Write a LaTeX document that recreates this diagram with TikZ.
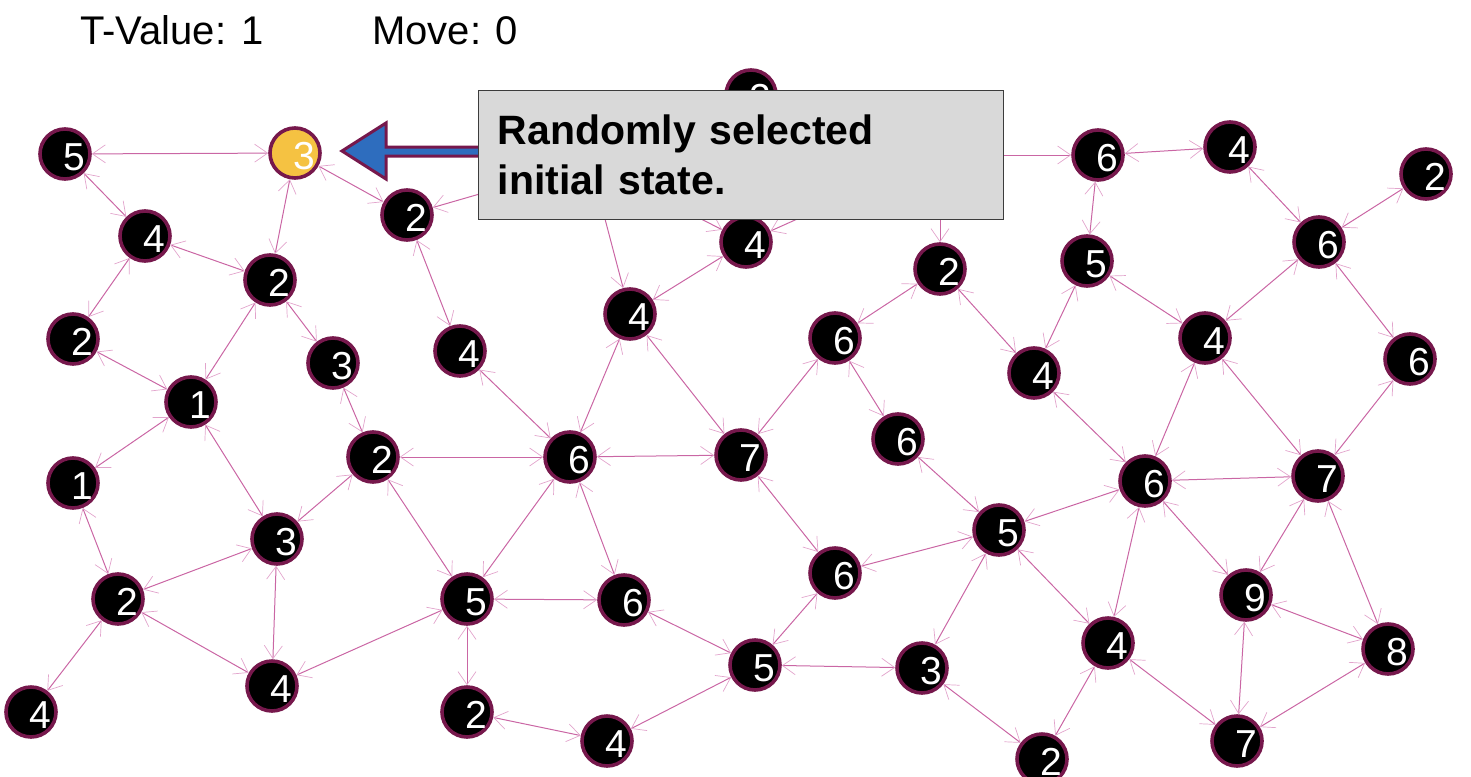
\documentclass[tikz,border=0pt]{standalone}
\usepackage{fontspec}
\setmainfont{Liberation Sans}
\usetikzlibrary{positioning, arrows.meta}

\definecolor{rim}{HTML}{76184C}
\definecolor{startfill}{HTML}{F5C242}
\definecolor{linkcol}{HTML}{CA66A4}
\definecolor{tipcol}{HTML}{E2A4CC}
\definecolor{notefill}{HTML}{D9D9D9}
\definecolor{notedraw}{HTML}{3C3C3C}
\definecolor{pointerfill}{HTML}{2E6DBE}

\tikzset{
  state/.style={circle, draw=rim, fill=black, line width=3.6pt, minimum size=50pt, inner sep=0pt,
    text=white, font=\fontsize{39}{39}\selectfont, text height=33pt, text depth=0pt,
    execute at begin node=\hspace*{9pt}, execute at end node=\hspace*{-9pt}},
  start/.style={state, fill=startfill},
  link/.style={draw=linkcol, line width=1pt,
    {Straight Barb[length=13pt,width=18pt,line width=0.7pt,color=tipcol]}-{Straight Barb[length=13pt,width=18pt,line width=0.7pt,color=tipcol]}},
  notebox/.style={draw=notedraw, fill=notefill, line width=1.3pt, anchor=north west, align=left,
    text width=487pt, inner xsep=19pt, minimum width=525pt, minimum height=129pt,
    font=\bfseries\fontsize{41}{50}\selectfont},
  pointer/.style={draw=rim, fill=pointerfill, line width=3pt, line join=miter},
  header/.style={anchor=base west, inner sep=0pt, font=\fontsize{40}{40}\selectfont}
}

\begin{document}
\begin{tikzpicture}[x=1pt, y=-1pt]
\useasboundingbox (0,0) rectangle (1471,776);

\node[header] (tval) at (80,45) {T-Value: 1};
\node[header] (move) at (372,45) {Move: 0};

\node[state] (a5) at (65,154) {5};
\node[start] (a3) at (295,153) {3};
\node[state] (b4) at (145,236) {4};
\node[state] (b2) at (270,280) {2};
\node[state] (c2) at (407,215) {2};
\node[state] (d2) at (73,339) {2};
\node[state] (e1) at (191,402) {1};
\node[state] (e3) at (333,363) {3};
\node[state] (f4) at (460,351) {4};
\node[state] (g1) at (73,483) {1};
\node[state] (g2) at (373,457) {2};
\node[state] (h3) at (277,539) {3};
\node[state] (i2) at (118,599) {2};
\node[state] (j4) at (31,712) {4};
\node[state] (k4) at (272,686) {4};
\node[state] (l5) at (467,599) {5};
\node[state] (m2) at (467,712) {2};
\node[state] (n4) at (607,741) {4};
\node[state] (o6) at (570,457) {6};
\node[state] (p6) at (624,600) {6};
\node[state] (q4) at (630,314) {4};
\node[state] (r4) at (746,242) {4};
\node[state] (s7) at (741,455) {7};
\node[state] (t6) at (835,573) {6};
\node[state] (u5) at (755,665) {5};
\node[state] (v3) at (922,668) {3};
\node[state] (w2) at (751,95) {2};
\coordinate (x1) at (590,162);
\coordinate (x2) at (940,155);
\node[state] (y2) at (940,269) {2};
\node[state] (y6) at (835,338) {6};
\node[state] (z6) at (898,439) {6};
\node[state] (A4) at (1034,373) {4};
\node[state] (B6) at (1098,155) {6};
\node[state] (C4) at (1230,147) {4};
\node[state] (D2) at (1426,174) {2};
\node[state] (E6) at (1319,242) {6};
\node[state] (F5) at (1087,261) {5};
\node[state] (G4) at (1205,338) {4};
\node[state] (H6) at (1410,359) {6};
\node[state] (I6) at (1145,481) {6};
\node[state] (J7) at (1318,476) {7};
\node[state] (K5) at (999,530) {5};
\node[state] (L9) at (1246,595) {9};
\node[state] (M4) at (1108,643) {4};
\node[state] (N8) at (1388,649) {8};
\node[state] (O7) at (1237,741) {7};
\node[state] (P2) at (1042,759) {2};

\draw[link] (a5) -- (a3);
\draw[link] (a5) -- (b4);
\draw[link] (a3) -- (b2);
\draw[link] (a3) -- (c2);
\draw[link] (b4) -- (b2);
\draw[link] (b4) -- (d2);
\draw[link] (b2) -- (e1);
\draw[link] (b2) -- (e3);
\draw[link] (d2) -- (e1);
\draw[link] (c2) -- (f4);
\draw[link] (c2) -- (x1);
\draw[link] (e3) -- (g2);
\draw[link] (f4) -- (o6);
\draw[link] (e1) -- (g1);
\draw[link] (e1) -- (h3);
\draw[link] (g1) -- (i2);
\draw[link] (i2) -- (h3);
\draw[link] (i2) -- (j4);
\draw[link] (i2) -- (k4);
\draw[link] (h3) -- (g2);
\draw[link] (h3) -- (k4);
\draw[link] (g2) -- (o6);
\draw[link] (g2) -- (l5);
\draw[link] (k4) -- (l5);
\draw[link] (l5) -- (o6);
\draw[link] (l5) -- (p6);
\draw[link] (l5) -- (m2);
\draw[link] (m2) -- (n4);
\draw[link] (n4) -- (u5);
\draw[link] (p6) -- (u5);
\draw[link] (o6) -- (p6);
\draw[link] (o6) -- (q4);
\draw[link] (o6) -- (s7);
\draw[link] (q4) -- (r4);
\draw[link] (q4) -- (s7);
\draw[link] (q4) -- (x1);
\draw[link] (r4) -- (x1);
\draw[link] (r4) -- (x2);
\draw[link] (s7) -- (y6);
\draw[link] (s7) -- (t6);
\draw[link] (t6) -- (u5);
\draw[link] (t6) -- (K5);
\draw[link] (u5) -- (v3);
\draw[link] (v3) -- (K5);
\draw[link] (v3) -- (P2);
\draw[link] (y6) -- (y2);
\draw[link] (y6) -- (z6);
\draw[link] (z6) -- (K5);
\draw[link] (y2) -- (A4);
\draw[link] (y2) -- (x2);
\draw[link] (x2) -- (B6);
\draw[link] (B6) -- (C4);
\draw[link] (B6) -- (F5);
\draw[link] (C4) -- (E6);
\draw[link] (D2) -- (E6);
\draw[link] (E6) -- (G4);
\draw[link] (E6) -- (H6);
\draw[link] (F5) -- (A4);
\draw[link] (F5) -- (G4);
\draw[link] (A4) -- (I6);
\draw[link] (G4) -- (I6);
\draw[link] (G4) -- (J7);
\draw[link] (H6) -- (J7);
\draw[link] (I6) -- (J7);
\draw[link] (I6) -- (K5);
\draw[link] (I6) -- (M4);
\draw[link] (I6) -- (L9);
\draw[link] (J7) -- (L9);
\draw[link] (J7) -- (N8);
\draw[link] (K5) -- (M4);
\draw[link] (L9) -- (N8);
\draw[link] (L9) -- (O7);
\draw[link] (M4) -- (O7);
\draw[link] (M4) -- (P2);
\draw[link] (N8) -- (O7);

\draw[pointer] (480,147) -- (386,147) -- (386,123) -- (342,151) -- (386,179) -- (386,156) -- (480,156) -- cycle;
\node[notebox] (note) at (478,90) {Randomly selected\\initial state.};
\end{tikzpicture}
\end{document}
